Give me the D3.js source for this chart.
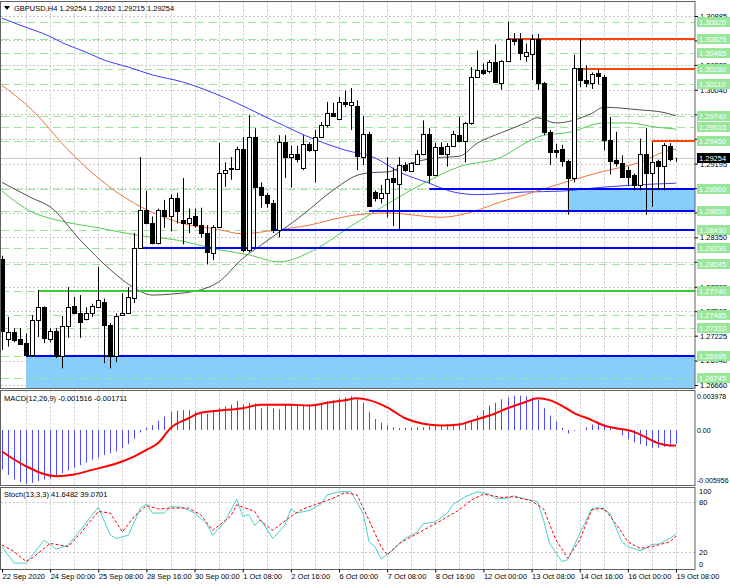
<!DOCTYPE html>
<html>
<head>
<meta charset="utf-8">
<script src="https://cdn.jsdelivr.net/npm/d3@7"></script>
<style>
body { margin: 0; background: #fff; }
svg { display: block; font-family: "Liberation Sans", Arial, sans-serif; font-size: 7.5px; }
</style>
</head>
<body>
<svg id="chart" width="730" height="584"></svg>
<script>
// H4 bars, 22 Sep 16:00 .. 19 Oct 08:00
var opens = [1.2810,1.2719,1.2727,1.2719,1.2714,1.2700,1.2740,1.2755,1.2719,1.2728,
	1.2699,1.2733,1.2756,1.2749,1.2742,1.2748,1.2755,1.2761,1.2735,1.2699,
	1.2746,1.2749,1.2766,1.2823,1.2866,1.2852,1.2829,1.2866,1.2859,1.2880,
	1.2855,1.2851,1.2860,1.2849,1.2840,1.2817,1.2847,1.2909,1.2913,1.2913,
	1.2936,1.2821,1.2950,1.2893,1.2883,1.2874,1.2844,1.2944,1.2927,1.2930,
	1.2914,1.2942,1.2935,1.2950,1.2964,1.2978,1.2970,1.2990,1.2987,1.2986,
	1.2927,1.2953,1.2887,1.2880,1.2886,1.2903,1.2896,1.2918,1.2911,1.2919,
	1.2931,1.2953,1.2907,1.2938,1.2930,1.2940,1.2952,1.2945,1.2966,1.3019,
	1.3027,1.3025,1.3036,1.3012,1.3037,1.3062,1.3062,1.3043,1.3045,1.3062,
	1.3012,1.2956,1.2935,1.2936,1.2922,1.2903,1.3029,1.3015,1.3012,1.3023,
	1.3019,1.2947,1.2924,1.2920,1.2912,1.2906,1.2895,1.2931,1.2909,1.2922,
	1.2917,1.2940,1.29254];
var highs = [1.2814,1.2744,1.2731,1.2731,1.2725,1.2746,1.2775,1.2756,1.2731,1.2731,
	1.2745,1.2778,1.2767,1.2769,1.2755,1.2759,1.2801,1.2765,1.2737,1.2748,
	1.2771,1.2778,1.2840,1.2927,1.2888,1.2859,1.2868,1.2878,1.2884,1.2886,
	1.2903,1.2868,1.2868,1.2869,1.2849,1.2849,1.2943,1.2921,1.2927,1.2939,
	1.2950,1.2975,1.2960,1.2898,1.2886,1.2878,1.2952,1.2952,1.2940,1.2940,
	1.2952,1.2944,1.2958,1.2967,1.2990,1.2989,1.2996,1.3003,1.3006,1.2992,
	1.2974,1.2956,1.2889,1.2895,1.2927,1.2915,1.2927,1.2921,1.2921,1.2935,
	1.2969,1.2960,1.2943,1.2944,1.2943,1.2957,1.2973,1.2967,1.3030,1.3049,
	1.3034,1.3038,1.3056,1.3038,1.3082,1.3069,1.3069,1.3057,1.3067,1.3068,
	1.3013,1.2958,1.2942,1.2941,1.2924,1.3044,1.3062,1.3032,1.3024,1.3027,
	1.3021,1.2973,1.2956,1.2929,1.2916,1.2908,1.2948,1.2960,1.2944,1.2924,
	1.2943,1.2943,1.29262];
var lows = [1.2706,1.2710,1.2715,1.2712,1.2698,1.2698,1.2721,1.2714,1.2715,1.2697,
	1.2685,1.2720,1.2747,1.2720,1.2740,1.2744,1.2754,1.2691,1.2685,1.2692,
	1.2745,1.2748,1.2760,1.2822,1.2850,1.2827,1.2827,1.2846,1.2842,1.2851,
	1.2827,1.2840,1.2846,1.2835,1.2804,1.2809,1.2846,1.2893,1.2901,1.2912,
	1.2818,1.2818,1.2823,1.2869,1.2869,1.2840,1.2835,1.2903,1.2892,1.2921,
	1.2912,1.2933,1.2898,1.2949,1.2961,1.2973,1.2969,1.2984,1.2958,1.2912,
	1.2918,1.2870,1.2876,1.2874,1.2858,1.2848,1.2843,1.2910,1.2910,1.2918,
	1.2929,1.2897,1.2906,1.2930,1.2916,1.2939,1.2944,1.2921,1.2964,1.3018,
	1.3021,1.3023,1.3012,1.3004,1.3036,1.3055,1.3038,1.3036,1.3015,1.3004,
	1.2952,1.2918,1.2926,1.2916,1.2861,1.2898,1.3007,1.3007,1.3005,1.3010,
	1.2935,1.2907,1.2916,1.2903,1.2895,1.2889,1.2889,1.2861,1.2870,1.2889,
	1.2889,1.2922,1.29215];
var closes = [1.2728,1.2727,1.2718,1.2713,1.2700,1.2740,1.2755,1.2720,1.2728,1.2699,
	1.2733,1.2755,1.2749,1.2738,1.2748,1.2756,1.2763,1.2735,1.2699,1.2745,
	1.2749,1.2767,1.2823,1.2866,1.2852,1.2829,1.2866,1.2859,1.2880,1.2865,
	1.2851,1.2857,1.2849,1.2840,1.2818,1.2847,1.2909,1.2912,1.2914,1.2936,
	1.2821,1.2950,1.2893,1.2883,1.2874,1.2844,1.2944,1.2927,1.2930,1.2925,
	1.2942,1.2935,1.2950,1.2964,1.2977,1.2974,1.2990,1.2988,1.2990,1.2928,
	1.2953,1.2871,1.2880,1.2886,1.2902,1.2898,1.2918,1.2912,1.2920,1.2931,
	1.2953,1.2907,1.2938,1.2931,1.2940,1.2953,1.2945,1.2966,1.3019,1.3027,
	1.3023,1.3036,1.3013,1.3037,1.3062,1.3060,1.3046,1.3047,1.3062,1.3012,
	1.2956,1.2933,1.2933,1.2922,1.2903,1.3029,1.3015,1.3012,1.3022,1.3020,
	1.2947,1.2923,1.2920,1.2904,1.2904,1.2895,1.2931,1.2909,1.2921,1.2917,
	1.2941,1.2925,1.29254];

// moving averages (bar index, price)
var blueBars = [0,3,8,10,14,17,21,25,30,37,45,52,57,62,66,71,75,79,87,93,99,108,112];
var blueMA = [1.3086,1.3078,1.3065,1.3058,1.3047,1.3038,1.3030,1.3021,1.3013,1.2995,1.2969,1.2947,1.2935,1.2926,1.2910,1.2897,1.2887,1.2884,1.2887,1.2888,1.2892,1.2896,1.2897];
var orangeBars = [0,5,11,16,22,27,30,36,40,44,51,58,64,73,78,83,87,93,99,106,111,112];
var orangeMA = [1.3009,1.2981,1.2935,1.2903,1.2874,1.2858,1.2851,1.2844,1.2839,1.2842,1.2849,1.2860,1.2863,1.2858,1.2864,1.2876,1.2884,1.2897,1.2909,1.2921,1.2935,1.2936];
var greenBars = [0,5,9,16,23,29,36,41,46,52,58,63,69,76,83,87,90,94,100,104,109,112];
var greenMA = [1.2888,1.2864,1.2855,1.2846,1.2837,1.2832,1.2821,1.2815,1.2807,1.2821,1.2848,1.2869,1.2893,1.2916,1.2927,1.2943,1.2952,1.2955,1.2966,1.2966,1.2961,1.2959];
var grayBars = [0,5,8,13,18,22,25,28,33,36,40,43,50,55,59,61,64,68,72,76,79,83,87,89,92,98,100,106,110,112];
var grayMA = [1.2898,1.2880,1.2870,1.2832,1.2798,1.2777,1.2769,1.2770,1.2775,1.2784,1.2811,1.2826,1.2861,1.2889,1.2906,1.2909,1.2910,1.2920,1.2926,1.2928,1.2943,1.2955,1.2966,1.2972,1.2966,1.2977,1.2984,1.2981,1.2978,1.2974];

// levels
var levelValues = [1.30820,1.30625,1.30465,1.30280,1.30110,1.29740,1.29615,1.29450,1.28900,1.28650,1.28430,1.28230,1.28045,1.27740,1.27465,1.27310,1.26995,1.26745];
var lineValues = [1.30625,1.30280,1.29450,1.28900,1.28650,1.28430,1.28230,1.27740,1.26995];
var lineStartBar = [84,95,108,71,61,45,23,6,4];
var lineKind = ["res","res","res","sup","sup","sup","sup","pivot","sup"];
var zoneTop = [1.28900,1.26995];
var zoneBottom = [1.28650,1.26600];
var zoneStartBar = [94,4];

var priceTicks = ["1.30885","1.30605","1.30325","1.30040","1.29760","1.29480","1.29195","1.28915","1.28635","1.28350","1.28070","1.27785","1.27505","1.27225","1.26940","1.26660"];
var timeLabels = ["22 Sep 2020","24 Sep 00:00","25 Sep 08:00","28 Sep 16:00","30 Sep 00:00","1 Oct 08:00","2 Oct 16:00","6 Oct 00:00","7 Oct 08:00","8 Oct 16:00","12 Oct 00:00","13 Oct 08:00","14 Oct 16:00","16 Oct 00:00","19 Oct 08:00"];
var timeLabelBars = [0,8,16,24,32,40,48,56,64,72,80,88,96,104,112];

// MACD(12,26,9)
var macdHist = [-0.00436,-0.00496,-0.00547,-0.00575,-0.00595,-0.00583,-0.00563,-0.00547,-0.00535,-0.00516,
	-0.00476,-0.00448,-0.00416,-0.00388,-0.00360,-0.00328,-0.00304,-0.00277,-0.00257,-0.00237,
	-0.00201,-0.00157,-0.00098,-0.00026,0.00022,0.00054,0.00101,0.00149,0.00201,0.00213,
	0.00221,0.00221,0.00201,0.00181,0.00181,0.00213,0.00241,0.00261,0.00281,0.00320,
	0.00281,0.00300,0.00293,0.00241,0.00261,0.00241,0.00229,0.00281,0.00281,0.00281,
	0.00281,0.00281,0.00281,0.00289,0.00320,0.00332,0.00352,0.00360,0.00372,0.00352,
	0.00300,0.00201,0.00121,0.00082,0.00054,0.00030,0.00022,0.00022,0.00022,0.00030,
	0.00030,0.00042,0.00042,0.00042,0.00062,0.00070,0.00082,0.00094,0.00109,0.00161,
	0.00221,0.00269,0.00300,0.00340,0.00360,0.00380,0.00380,0.00372,0.00360,0.00332,
	0.00241,0.00161,0.00094,0.00022,-0.00038,-0.00010,0.00002,0.00030,0.00062,0.00082,
	0.00062,0.00022,0.00002,-0.00058,-0.00098,-0.00137,-0.00157,-0.00177,-0.00197,-0.00197,
	-0.00185,-0.00185,-0.001516];
var macdSignalBars = [0,4,9,12,15,19,22,24,26,28,31,33,37,40,43,48,51,54,57,59,61,64,67,70,73,76,78,81,84,87,89,91,93,95,98,100,102,105,107,109,111,112];
var macdSignal = [-0.00237,-0.0040,-0.0051,-0.0049,-0.0044,-0.0037,-0.0029,-0.0022,-0.0014,0.0002,0.0013,0.0019,0.0022,0.0024,0.0028,0.0028,0.0027,0.0030,0.0033,0.0035,0.0033,0.0025,0.0013,0.0007,0.0005,0.0006,0.0010,0.0016,0.0024,0.0031,0.0035,0.0033,0.0027,0.0019,0.0011,0.0005,0.0002,-0.0002,-0.0008,-0.00145,-0.0017,-0.001711];

// Stoch(13,3,3)
var stochKBars = [0,2,4,7,9,11,13,16,18,19,21,23,24,25,27,28,30,32,34,35,37,39,40,41,42,43,45,47,48,49,51,53,54,56,58,60,61,62,63,65,67,69,70,72,74,75,77,79,81,82,84,85,87,89,90,91,93,94,96,98,99,101,103,104,106,107,108,109,111,112];
var stochK = [26,6,6,34,23,28,46,74,40,36,40,73,78,67,67,75,74,67,54,40,56,84,63,65,52,59,36,52,72,67,70,78,89,93,93,67,32,26,11,22,36,44,54,56,67,78,87,93,90,85,85,88,84,81,58,30,8,10,42,72,74,67,32,26,21,24,29,29,36,41.6482];
var stochDBars = [0,2,4,5,8,11,13,16,18,20,22,24,26,28,31,33,35,38,39,42,43,45,48,50,52,55,57,59,61,63,64,66,70,73,76,78,80,83,85,88,90,92,94,96,98,100,102,104,106,108,111,112];
var stochD = [28,20,8,12,30,26,42,69,67,44,63,76,72,73,73,65,46,63,77,69,57,46,63,72,77,85,92,89,58,26,16,30,46,58,71,83,90,86,87,82,72,35,12,34,71,73,54,32,24,26,32,39.0701];

var svg = d3.select("#chart");
var plotRight = 695;
var mainPanel = {top: 1.5, bottom: 388.5};
var macdPanel = {top: 390.5, bottom: 485.5};
var stochPanel = {top: 487.5, bottom: 569.5};

var x = d3.scaleLinear().domain([0, 112]).range([2, 676]);
var y = d3.scaleLinear().domain([1.26660, 1.30885]).range([385, 16]);
var yMacd = d3.scaleLinear().domain([-0.005956, 0.003978]).range([484, 394]);
var yStoch = d3.scaleLinear().domain([0, 100]).range([568, 486]);

function px(v) { return Math.round(v) + 0.5; }

var defs = svg.append("defs");
[["clipMain", mainPanel], ["clipMacd", macdPanel], ["clipStoch", stochPanel]].forEach(function(c) {
	defs.append("clipPath").attr("id", c[0])
		.append("rect")
			.attr("x", 1).attr("y", c[1].top + 0.5)
			.attr("width", plotRight - 1).attr("height", c[1].bottom - c[1].top - 1);
});

/*
 * grid
 */
var gridBars = d3.range(4, 113, 4);
[mainPanel, macdPanel, stochPanel].forEach(function(p) {
	svg.append("g").selectAll("line")
		.data(gridBars)
			.enter()
				.append("line")
					.attr("x1", function(d) { return px(x(d)); })
					.attr("x2", function(d) { return px(x(d)); })
					.attr("y1", p.top).attr("y2", p.bottom)
					.attr("stroke", "#c8c8c8")
					.attr("stroke-dasharray", "2,2");
});

svg.append("g").selectAll("line")
	.data(priceTicks)
		.enter()
			.append("line")
				.attr("x1", 1).attr("x2", plotRight)
				.attr("y1", function(d) { return px(y(+d)); })
				.attr("y2", function(d) { return px(y(+d)); })
				.attr("stroke", "#c8c8c8")
				.attr("stroke-dasharray", "2,2");

svg.append("g").selectAll("line")
	.data([80, 20])
		.enter()
			.append("line")
				.attr("x1", 1).attr("x2", plotRight)
				.attr("y1", function(d) { return px(yStoch(d)); })
				.attr("y2", function(d) { return px(yStoch(d)); })
				.attr("stroke", "#c8c8c8")
				.attr("stroke-dasharray", "2,2");

/*
 * main panel: zones, levels, MAs, candles
 */
var main = svg.append("g").attr("clip-path", "url(#clipMain)");

main.selectAll(".zone")
	.data(zoneTop)
		.enter()
			.append("rect")
				.attr("class", "zone")
				.attr("x", function(d, i) { return x(zoneStartBar[i]); })
				.attr("y", function(d) { return y(d); })
				.attr("width", function(d, i) { return plotRight - x(zoneStartBar[i]); })
				.attr("height", function(d, i) { return y(zoneBottom[i]) - y(d); })
				.attr("fill", "#87cefa");

main.selectAll(".dash")
	.data(levelValues)
		.enter()
			.append("line")
				.attr("class", "dash")
				.attr("x1", 1).attr("x2", plotRight)
				.attr("y1", function(d) { return px(y(d)); })
				.attr("y2", function(d) { return px(y(d)); })
				.attr("stroke", "#98e698")
				.attr("stroke-dasharray", "8,5");

// current price line
main.append("line")
	.attr("x1", 1).attr("x2", plotRight)
	.attr("y1", px(y(closes[112]))).attr("y2", px(y(closes[112])))
	.attr("stroke", "#c8c8c8");

var maLine = function(bars) {
	return d3.line()
		.x(function(d, i) { return x(bars[i]); })
		.y(function(d) { return y(d); })
		.curve(d3.curveMonotoneX);
};
[[blueBars, blueMA, "#3c3cff"], [orangeBars, orangeMA, "#f5703c"], [greenBars, greenMA, "#55cc55"], [grayBars, grayMA, "#505050"]].forEach(function(m) {
	main.append("path")
		.attr("d", maLine(m[0])(m[1]))
		.attr("fill", "none")
		.attr("stroke", m[2])
		.attr("stroke-width", 1);
});

var lineColor = {res: "#ff4500", sup: "#0000ff", pivot: "#32cd32"};
main.selectAll(".lvl")
	.data(lineValues)
		.enter()
			.append("line")
				.attr("class", "lvl")
				.attr("x1", function(d, i) { return x(lineStartBar[i]); })
				.attr("x2", plotRight)
				.attr("y1", function(d) { return Math.round(y(d)); })
				.attr("y2", function(d) { return Math.round(y(d)); })
				.attr("stroke", function(d, i) { return lineColor[lineKind[i]]; })
				.attr("stroke-width", 2);

var bars = d3.range(opens.length);
main.selectAll(".wick")
	.data(bars)
		.enter()
			.append("line")
				.attr("class", "wick")
				.attr("x1", function(d) { return px(x(d)); })
				.attr("x2", function(d) { return px(x(d)); })
				.attr("y1", function(d) { return y(highs[d]); })
				.attr("y2", function(d) { return y(lows[d]); })
				.attr("stroke", "#000");

main.selectAll(".body")
	.data(bars)
		.enter()
			.append("rect")
				.attr("class", "body")
				.attr("x", function(d) { return Math.round(x(d)) - 1.5; })
				.attr("width", 4)
				.attr("y", function(d) { return Math.round(y(Math.max(opens[d], closes[d]))) + 0.5; })
				.attr("height", function(d) {
					return Math.max(0, Math.round(y(Math.min(opens[d], closes[d]))) - Math.round(y(Math.max(opens[d], closes[d]))));
				})
				.attr("fill", function(d) { return closes[d] >= opens[d] ? "#fff" : "#000"; })
				.attr("stroke", "#000");

/*
 * MACD panel
 */
var macd = svg.append("g").attr("clip-path", "url(#clipMacd)");
macd.selectAll(".hist")
	.data(macdHist)
		.enter()
			.append("line")
				.attr("class", "hist")
				.attr("x1", function(d, i) { return px(x(i)); })
				.attr("x2", function(d, i) { return px(x(i)); })
				.attr("y1", yMacd(0))
				.attr("y2", function(d) { return yMacd(d); })
				.attr("stroke", "#4b4bff");

macd.append("path")
	.attr("d", d3.line()
		.x(function(d, i) { return x(macdSignalBars[i]); })
		.y(function(d) { return yMacd(d); })
		.curve(d3.curveMonotoneX)(macdSignal))
	.attr("fill", "none")
	.attr("stroke", "#ff0000")
	.attr("stroke-width", 2);

/*
 * Stochastic panel
 */
var stoch = svg.append("g").attr("clip-path", "url(#clipStoch)");
stoch.append("path")
	.attr("d", d3.line()
		.x(function(d, i) { return x(stochKBars[i]); })
		.y(function(d) { return yStoch(d); })(stochK))
	.attr("fill", "none")
	.attr("stroke", "#48d1cc")
	.attr("stroke-width", 1);
stoch.append("path")
	.attr("d", d3.line()
		.x(function(d, i) { return x(stochDBars[i]); })
		.y(function(d) { return yStoch(d); })(stochD))
	.attr("fill", "none")
	.attr("stroke", "#ff0000")
	.attr("stroke-dasharray", "3,2");

/*
 * frames
 */
[mainPanel, macdPanel, stochPanel].forEach(function(p) {
	svg.append("rect")
		.attr("x", 0.5).attr("y", p.top)
		.attr("width", plotRight - 0.5).attr("height", p.bottom - p.top)
		.attr("fill", "none")
		.attr("stroke", "#606060");
});

/*
 * price axis
 */
var yAxis = d3.axisRight(y)
	.tickValues(priceTicks.map(Number))
	.tickFormat(function(d, i) { return priceTicks[i]; })
	.tickSize(3)
	.tickPadding(2);
var ya = svg.append("g").attr("transform", "translate(" + plotRight + ",0)").call(yAxis);
ya.select(".domain").remove();
ya.selectAll("text").attr("font-size", "7.5px").attr("font-family", "Liberation Sans, Arial, sans-serif").attr("fill", "#000");

var lbl = svg.append("g");
lbl.selectAll("rect")
	.data(levelValues)
		.enter()
			.append("rect")
				.attr("x", 697).attr("width", 33)
				.attr("y", function(d) { return Math.round(y(d)) - 5; })
				.attr("height", 10)
				.attr("fill", "#98e698");
lbl.selectAll("text")
	.data(levelValues)
		.enter()
			.append("text")
				.attr("x", 699)
				.attr("y", function(d) { return Math.round(y(d)) + 3; })
				.attr("fill", "#fff")
				.text(function(d) { return d.toFixed(5); });

lbl.append("rect")
	.attr("x", 697).attr("width", 33)
	.attr("y", Math.round(y(closes[112])) - 5).attr("height", 10)
	.attr("fill", "#000");
lbl.append("text")
	.attr("x", 699).attr("y", Math.round(y(closes[112])) + 3)
	.attr("fill", "#fff")
	.text(closes[112].toFixed(5));

/*
 * indicator scales
 */
var macdLabels = [0.003978, 0, -0.005956];
svg.append("g").selectAll("text")
	.data(macdLabels)
		.enter()
			.append("text")
				.attr("x", 697)
				.attr("font-size", "7px")
				.attr("y", function(d) { return Math.min(483, Math.max(399, yMacd(d) + 3)); })
				.text(function(d) { return d === 0 ? "0.00" : d.toFixed(6); });

var stochLabels = [100, 80, 20, 0];
svg.append("g").selectAll("text")
	.data(stochLabels)
		.enter()
			.append("text")
				.attr("x", 699)
				.attr("y", function(d) { return Math.min(567, Math.max(494, yStoch(d) + 3)); })
				.text(function(d) { return d; });

/*
 * time axis
 */
var xAxis = d3.axisBottom(x)
	.tickValues(timeLabelBars)
	.tickFormat(function(d, i) { return timeLabels[i]; })
	.tickSize(3)
	.tickPadding(1);
var xa = svg.append("g").attr("transform", "translate(0," + stochPanel.bottom + ")").call(xAxis);
xa.select(".domain").remove();
xa.selectAll("text")
	.attr("text-anchor", "start")
	.attr("font-size", "7.5px")
	.attr("font-family", "Liberation Sans, Arial, sans-serif")
	.attr("fill", "#000");

/*
 * titles
 */
svg.append("path").attr("d", "M4,6 L10,6 L7,10 Z").attr("fill", "#000");
svg.append("text").attr("x", 14).attr("y", 11)
	.text("GBPUSD,H4  " + [opens[112], highs[112], lows[112], closes[112]].map(function(v) { return v.toFixed(5); }).join(" "));
svg.append("text").attr("x", 4).attr("y", 401)
	.text("MACD(12,26,9) " + macdHist[112].toFixed(6) + " " + macdSignal[macdSignal.length - 1].toFixed(6));
svg.append("text").attr("x", 4).attr("y", 497)
	.text("Stoch(13,3,3) " + stochK[stochK.length - 1].toFixed(4) + " " + stochD[stochD.length - 1].toFixed(4));
</script>
</body>
</html>
